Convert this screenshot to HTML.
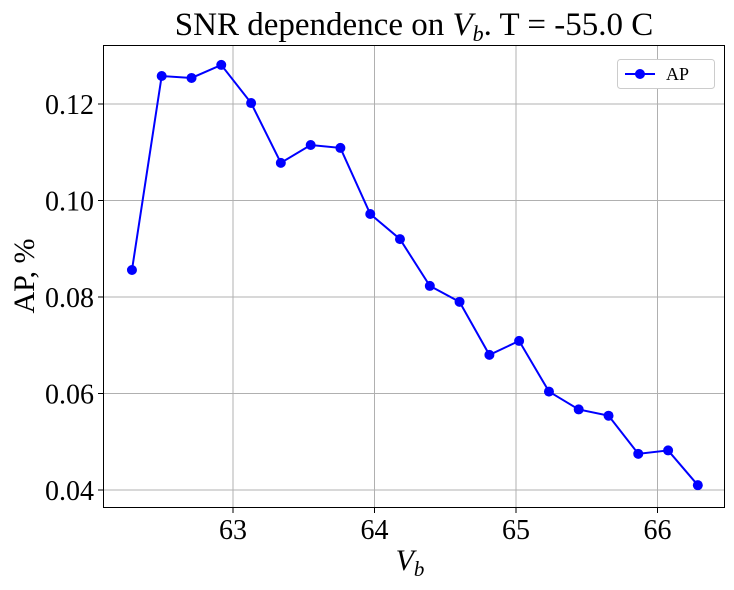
<!DOCTYPE html>
<html><head><meta charset="utf-8"><style>
body{margin:0;background:#fff;}
svg{font-family:"Liberation Serif","DejaVu Serif",serif;}
</style></head><body>
<svg id="chart" width="734" height="585">
<rect x="0" y="0" width="734" height="585" fill="#fff"/>
<g id="grid"></g>
<g id="ticks"></g>
<rect x="103.5" y="45.5" width="621" height="462" fill="none" stroke="#000" stroke-width="1"/>
<g id="series"></g>
<text x="414" y="35" text-anchor="middle" font-size="33">SNR dependence on <tspan font-style="italic">V</tspan><tspan font-style="italic" font-size="22" dy="6">b</tspan><tspan dy="-6">. T = -55.0 C</tspan></text>
<text x="410" y="570" text-anchor="middle" font-size="30" font-style="italic">V<tspan font-size="21" dy="6">b</tspan></text>
<text transform="translate(34,276) rotate(-90)" text-anchor="middle" font-size="30">AP, %</text>
<g>
<rect x="617.5" y="59.5" width="97" height="29" rx="3" fill="#fff" stroke="#ccc"/>
<line x1="625" y1="74" x2="655" y2="74" stroke="#0000ff" stroke-width="2"/>
<circle cx="640" cy="74" r="5" fill="#0000ff"/>
<text x="666" y="80" font-size="18">AP</text>
</g>
</svg>
<script>
const xVals=[62.286,62.496,62.707,62.917,63.128,63.338,63.549,63.759,63.970,64.180,64.391,64.601,64.812,65.022,65.233,65.443,65.654,65.864,66.075,66.285];
const apVals=[0.0856,0.1258,0.1254,0.1281,0.1202,0.1078,0.1115,0.1109,0.0972,0.0920,0.0823,0.0790,0.0680,0.0709,0.0604,0.0567,0.0554,0.0475,0.0482,0.0410];
const xTicks=[63,64,65,66];
const yTicks=[0.04,0.06,0.08,0.10,0.12];
const yTickLabels=["0.04","0.06","0.08","0.10","0.12"];
const NS="http://www.w3.org/2000/svg";
function sx(v){return 233+(v-63)*141.5;}
function sy(v){return 104+(0.12-v)*4825;}
const grid=document.getElementById('grid'),ticks=document.getElementById('ticks'),ser=document.getElementById('series');
function mk(tag,attrs,parent){const e=document.createElementNS(NS,tag);for(const k in attrs)e.setAttribute(k,attrs[k]);parent.appendChild(e);return e;}
xTicks.forEach(t=>{const x=sx(t);
const g=mk('line',{x1:x,x2:x,y1:45,y2:508,stroke:'#b0b0b0','stroke-width':1},grid);


mk('line',{x1:x,x2:x,y1:508,y2:513,stroke:'#000'},ticks);
const l=mk('text',{x:x,y:539,'text-anchor':'middle','font-size':28},ticks);l.textContent=t;

});
yTicks.forEach((t,i)=>{const y=sy(t);
const g=mk('line',{x1:103,x2:725,y1:y,y2:y,stroke:'#b0b0b0','stroke-width':1},grid);


mk('line',{x1:98,x2:103,y1:y,y2:y,stroke:'#000'},ticks);
const l=mk('text',{x:94,y:y+10,'text-anchor':'end','font-size':28},ticks);l.textContent=yTickLabels[i];

});
const pts=xVals.map((x,i)=>sx(x)+','+sy(apVals[i])).join(' ');
const pl=mk('polyline',{points:pts,fill:'none',stroke:'#0000ff','stroke-width':2},ser);


xVals.forEach((x,i)=>{const c=mk('circle',{cx:sx(x),cy:sy(apVals[i]),r:5,fill:'#0000ff'},ser);

});
</script>
</body></html>
